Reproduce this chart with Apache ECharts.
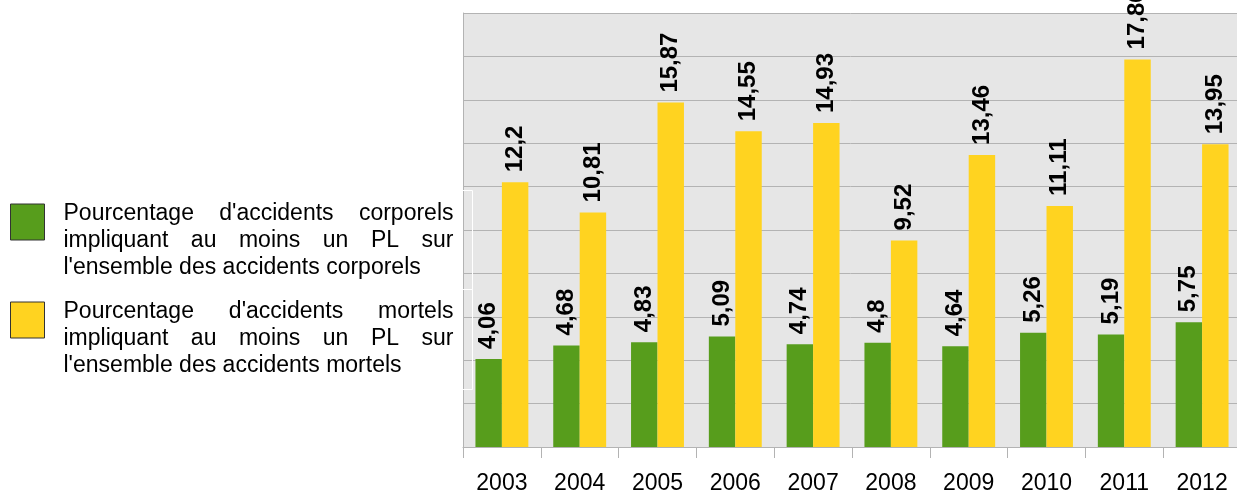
<!DOCTYPE html>
<html><head><meta charset="utf-8">
<script src="https://cdn.jsdelivr.net/npm/echarts@6/dist/echarts.min.js"></script>
<style>html,body{margin:0;padding:0;background:#fff}#c{width:1237px;height:490px}</style>
</head><body><div id="c"></div>
<script>
const years = ['2003','2004','2005','2006','2007','2008','2009','2010','2011','2012'];
const corporels = [4.06, 4.68, 4.83, 5.09, 4.74, 4.8, 4.64, 5.26, 5.19, 5.75];
const mortels = [12.2, 10.81, 15.87, 14.55, 14.93, 9.52, 13.46, 11.11, 17.86, 13.95];
const seriesNames = [
  "Pourcentage d'accidents corporels impliquant au moins un PL sur l'ensemble des accidents corporels",
  "Pourcentage d'accidents mortels impliquant au moins un PL sur l'ensemble des accidents mortels"
];
const legendLines = [
  ["Pourcentage d'accidents corporels", "impliquant au moins un PL sur", "l'ensemble des accidents corporels"],
  ["Pourcentage d'accidents mortels", "impliquant au moins un PL sur", "l'ensemble des accidents mortels"]
];

const FONT = 'Liberation Sans';
const LEG_FS = 23, LEG_LH = 27, LEG_W = 390;
const ctx = document.createElement('canvas').getContext('2d');
ctx.font = LEG_FS + 'px "' + FONT + '"';

function buildLegendText(lines) {
  const rich = { w: { fontSize: LEG_FS, fontFamily: FONT, lineHeight: LEG_LH, color: '#000' } };
  const out = lines.map((line, li) => {
    const words = line.split(' ');
    if (li === lines.length - 1 || words.length < 2) return '{w|' + line + '}';
    const sum = words.reduce((s, w) => s + ctx.measureText(w).width, 0);
    const gap = (LEG_W - sum) / (words.length - 1);
    rich['g' + li] = { width: gap, fontSize: LEG_FS, fontFamily: FONT, lineHeight: LEG_LH };
    return words.map(w => '{w|' + w + '}').join('{g' + li + '| }');
  });
  return { text: out.join('\n'), rich };
}
const legTexts = legendLines.map(buildLegendText);

function makeLegend(i, top) {
  return {
    show: true,
    orient: 'vertical',
    left: 10,
    top: top,
    padding: 0,
    selectedMode: false,
    data: [seriesNames[i]],
    icon: 'rect',
    itemWidth: 34,
    itemHeight: 36,
    itemStyle: { borderColor: '#333', borderWidth: 1 },
    formatter: () => legTexts[i].text,
    textStyle: {
      fontSize: LEG_FS, fontFamily: FONT, color: '#000', lineHeight: LEG_LH,
      padding: [37, 0, 0, 14],
      backgroundColor: 'rgba(0,0,0,0)',
      rich: legTexts[i].rich
    }
  };
}

const valLabel = {
  show: true,
  position: 'top',
  rotate: 90,
  align: 'left',
  verticalAlign: 'middle',
  distance: 10,
  fontFamily: FONT,
  fontSize: 24,
  fontWeight: 'bold',
  color: '#000',
  formatter: p => String(p.value).replace('.', ',')
};

const chart = echarts.init(document.getElementById('c'), null, { renderer: 'canvas' });
chart.setOption({
  animation: false,
  backgroundColor: '#fff',
  textStyle: { fontFamily: FONT },
  legend: [makeLegend(0, 163), makeLegend(1, 261)],
  grid: {
    left: 463, top: 13, width: 778, bottom: 43,
    show: true, backgroundColor: '#e6e6e6', borderWidth: 0,
    containLabel: false,
    outerBoundsMode: 'none'
  },
  xAxis: {
    type: 'category',
    data: years,
    axisLine: { show: true, lineStyle: { color: '#b3b3b3', width: 1 } },
    axisTick: { show: true, length: 11, lineStyle: { color: '#b3b3b3' } },
    axisLabel: { margin: 25, fontSize: 23, fontFamily: FONT, color: '#000' }
  },
  yAxis: {
    type: 'value',
    min: 0, max: 20, interval: 2,
    axisLine: { show: true, lineStyle: { color: '#b3b3b3', width: 1 } },
    axisTick: { show: false },
    axisLabel: { show: false },
    splitLine: { show: true, lineStyle: { color: '#b3b3b3', width: 1 } }
  },
  graphic: [
    { type: 'rect', z: 100, shape: { x: 1.5, y: 190.5, width: 471, height: 99 }, style: { fill: 'none', stroke: '#fff', lineWidth: 1 } },
    { type: 'rect', z: 100, shape: { x: 1.5, y: 289.5, width: 471, height: 100 }, style: { fill: 'none', stroke: '#fff', lineWidth: 1 } }
  ],
  series: [
    { name: seriesNames[0], type: 'bar', data: corporels, barGap: '0%', barCategoryGap: '32%',
      itemStyle: { color: '#579d1c' }, label: valLabel },
    { name: seriesNames[1], type: 'bar', data: mortels, barGap: '0%', barCategoryGap: '32%',
      itemStyle: { color: '#ffd320' }, label: valLabel }
  ]
});
</script>
</body></html>
